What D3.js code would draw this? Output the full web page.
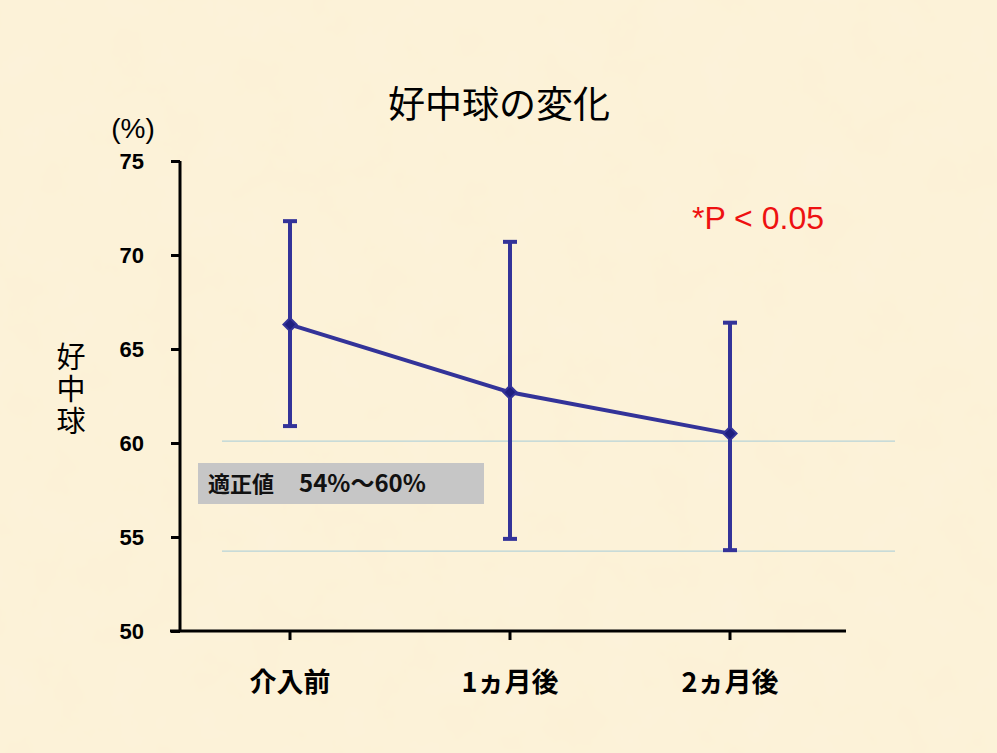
<!DOCTYPE html>
<html><head><meta charset="utf-8">
<script src="https://cdn.jsdelivr.net/npm/d3@7"></script>
<style>html,body{margin:0;padding:0;background:#fcf0d4;}svg{display:block;}</style>
</head><body>
<script>
const categories = ["介入前", "1ヵ月後", "2ヵ月後"];
const means = [66.3, 62.7, 60.5];
const upper = [71.8, 70.7, 66.4];
const lower = [60.9, 54.9, 54.3];
const yTicks = [50, 55, 60, 65, 70, 75];
const refLines = [60.1, 54.25];
const refLabelName = "適正値";
const refLabelRange = "54%～60%";

const W = 997, H = 753;
const svg = d3.select("body").append("svg").attr("width", W).attr("height", H);

// background parchment texture
const defs = svg.append("defs");
const f = defs.append("filter").attr("id", "paper").attr("x", 0).attr("y", 0).attr("width", "100%").attr("height", "100%");
f.append("feTurbulence").attr("type", "fractalNoise").attr("baseFrequency", 0.02).attr("numOctaves", 4).attr("seed", 3).attr("result", "n");
f.append("feColorMatrix").attr("in", "n").attr("type", "matrix")
  .attr("values", "0 0 0 0 0.99  0 0 0 0 0.93  0 0 0 0 0.78  0 0 0 0.28 0").attr("result", "c");
f.append("feComposite").attr("in", "c").attr("in2", "SourceGraphic").attr("operator", "over");
svg.append("rect").attr("width", W).attr("height", H).attr("fill", "#fcf1d6");
svg.append("rect").attr("width", W).attr("height", H).attr("fill", "#fcf1d6").attr("filter", "url(#paper)");

const x = d3.scaleBand().domain(categories).range([180, 840]);
const y = d3.scaleLinear().domain([50, 75]).range([631, 161]);
const cx = d => x(d) + x.bandwidth() / 2;

// reference lines
svg.selectAll("line.ref").data(refLines).enter().append("line")
  .attr("x1", 222).attr("x2", 895)
  .attr("y1", d => y(d)).attr("y2", d => y(d))
  .attr("stroke", "#b7d3d8").attr("stroke-width", 1.2);

// reference box
svg.append("rect").attr("x", 198).attr("y", 463).attr("width", 286).attr("height", 41).attr("fill", "#c6c6c6");
const rt = svg.append("text").attr("y", 492).attr("font-family", "'Noto Sans CJK JP', sans-serif")
  .attr("font-weight", 600).attr("fill", "#111");
rt.append("tspan").attr("x", 208).attr("font-size", 22).text(refLabelName);
rt.append("tspan").attr("x", 299).attr("font-size", 24).text(refLabelRange);

// axes
const yAxis = d3.axisLeft(y).tickValues(yTicks).tickSize(9).tickPadding(27);
const gy = svg.append("g").attr("transform", "translate(180,0)").call(yAxis);
gy.select(".domain").attr("stroke", "#000").attr("stroke-width", 3).attr("d", `M0,${y(75)}V${y(50)}`);
gy.selectAll(".tick line").attr("stroke", "#000").attr("stroke-width", 3);
gy.selectAll(".tick text").attr("font-family", "'Liberation Sans', Arial, sans-serif").attr("font-size", 22).attr("font-weight", "bold").attr("fill", "#000").attr("dy", "0.36em");

const xAxis = d3.axisBottom(x).tickSize(0);
const gx = svg.append("g").attr("transform", `translate(0,${y(50)})`).call(xAxis);
gx.select(".domain").attr("stroke", "#000").attr("stroke-width", 3).attr("d", "M170,0H846");
gx.selectAll(".tick line").remove();
gx.selectAll(".tick").append("line").attr("x1", 0).attr("x2", 0).attr("y1", 0).attr("y2", 9).attr("stroke", "#000").attr("stroke-width", 3);
gx.selectAll(".tick text").attr("y", 61).attr("dy", 0).attr("font-family", "'Noto Sans CJK JP', sans-serif").attr("font-size", 27).attr("font-weight", "bold").attr("fill", "#000");

// error bars
const col = "#333399";
const eg = svg.append("g");
categories.forEach((c, i) => {
  const px = cx(c);
  eg.append("line").attr("x1", px).attr("x2", px).attr("y1", y(upper[i])).attr("y2", y(lower[i])).attr("stroke", col).attr("stroke-width", 4);
  [upper[i], lower[i]].forEach(v => eg.append("line").attr("x1", px - 7).attr("x2", px + 7).attr("y1", y(v)).attr("y2", y(v)).attr("stroke", col).attr("stroke-width", 4));
});
// line
const line = d3.line().x((d, i) => cx(categories[i])).y(d => y(d));
svg.append("path").datum(means).attr("d", line).attr("fill", "none").attr("stroke", col).attr("stroke-width", 4);
// diamonds
svg.selectAll("path.pt").data(means).enter().append("path")
  .attr("d", d3.symbol().type(d3.symbolDiamond2).size(110))
  .attr("transform", (d, i) => `translate(${cx(categories[i])},${y(d)})`)
  .attr("fill", "#1f1f80").attr("stroke", col).attr("stroke-width", 2);

// texts
svg.append("text").attr("x", 499).attr("y", 118).attr("text-anchor", "middle").attr("font-family", "'Noto Sans CJK JP', sans-serif").attr("font-size", 37).attr("fill", "#000").text("好中球の変化");
svg.append("text").attr("x", 133).attr("y", 138).attr("text-anchor", "middle").attr("font-family", "'Liberation Sans', Arial, sans-serif").attr("font-size", 28).attr("fill", "#000").text("(%)");
svg.append("text").attr("x", 71).attr("y", 342)
  .style("writing-mode", "vertical-rl").style("letter-spacing", "3px")
  .attr("font-family", "'Noto Sans CJK JP', sans-serif").attr("font-size", 29).attr("fill", "#000").text("好中球");
svg.append("text").attr("x", 692).attr("y", 229).attr("font-family", "'Liberation Sans', Arial, sans-serif").attr("font-size", 32).attr("fill", "#ee1111").text("*P < 0.05");
</script>
</body></html>
